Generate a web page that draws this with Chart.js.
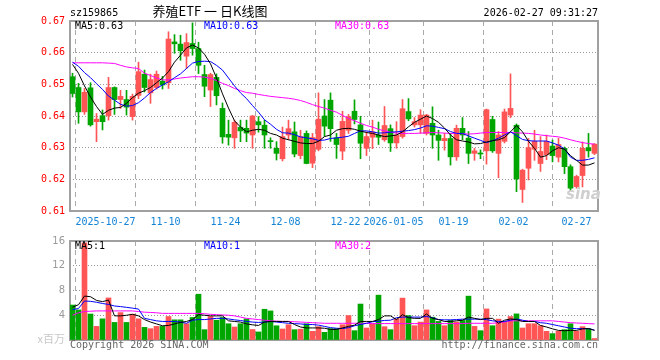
<!DOCTYPE html>
<html>
<head>
<meta charset="utf-8">
<script src="https://cdn.jsdelivr.net/npm/chart.js@4.4.1/dist/chart.umd.min.js"></script>
<style>
  body { margin:0; background:#fff; width:660px; height:360px; position:relative; overflow:hidden;
         font-family:'DejaVu Sans Mono', monospace; font-size:10px; line-height:10px; }
  .t { position:absolute; white-space:pre; }
  canvas { position:absolute; left:0; }
</style>
</head>
<body>
<canvas id="chart-k" width="660" height="230" style="top:0"></canvas>
<canvas id="chart-vol" width="660" height="130" style="top:230px"></canvas>

<div class="t" style="left:70px;top:8px;color:#000">sz159865</div>
<div class="t" style="left:130px;width:160px;top:4px;text-align:center;font-family:'Noto Sans CJK SC';font-size:13px;line-height:13px;color:#000">养殖ETF 一 日K线图</div>
<div class="t" style="right:62px;top:8px;color:#000">2026-02-27 09:31:27</div>

<div class="t" style="left:75px;top:21px;color:#000">MA5:0.63</div>
<div class="t" style="left:204px;top:21px;color:#0000ff">MA10:0.63</div>
<div class="t" style="left:335px;top:21px;color:#ff00ff">MA30:0.63</div>

<div class="t" style="left:75px;top:241px;color:#000">MA5:1</div>
<div class="t" style="left:204px;top:241px;color:#0000ff">MA10:1</div>
<div class="t" style="left:335px;top:241px;color:#ff00ff">MA30:2</div>

<div class="t" style="right:595px;top:333px;color:#c8c8c8;font-family:'Noto Sans CJK SC';font-size:11px;line-height:11px">x百万</div>
<div class="t" style="left:70px;top:340px;color:#666">Copyright 2026 SINA.COM</div>
<div class="t" style="right:62px;top:340px;color:#666">http://finance.sina.com.cn</div>
<div class="t" style="left:566px;top:187px;color:#cfcfcf;font-family:'DejaVu Sans';font-weight:bold;font-style:italic;font-size:15px;line-height:15px">sina</div>

<script>
// ── Data ─────────────────────────────────────────────────────────
const opens = [
  0.6524,0.6490,0.6413,0.6489,0.6382,0.6401,0.6401,0.6490,0.6452,0.6452,
  0.6398,0.6465,0.6532,0.6473,0.6490,0.6510,0.6505,0.6634,0.6627,0.6589,
  0.6629,0.6613,0.6531,0.6482,0.6522,0.6424,0.6342,0.6331,0.6364,0.6361,
  0.6340,0.6382,0.6371,0.6321,0.6298,0.6265,0.6340,0.6350,0.6275,0.6345,
  0.6251,0.6295,0.6400,0.6450,0.6331,0.6289,0.6355,0.6415,0.6372,0.6298,
  0.6333,0.6340,0.6325,0.6360,0.6315,0.6335,0.6414,0.6372,0.6372,0.6345,
  0.6377,0.6340,0.6322,0.6329,0.6271,0.6361,0.6330,0.6282,0.6283,0.6290,
  0.6389,0.6282,0.6320,0.6403,0.6371,0.6168,0.6235,0.6295,0.6250,0.6278,
  0.6305,0.6270,0.6298,0.6240,0.6177,0.6212,0.6300,0.6282];
const highs = [
  0.6535,0.6503,0.6487,0.6505,0.6408,0.6419,0.6522,0.6492,0.6481,0.6481,
  0.6469,0.6570,0.6545,0.6532,0.6542,0.6525,0.6666,0.6657,0.6655,0.6660,
  0.6694,0.6633,0.6560,0.6535,0.6533,0.6441,0.6387,0.6387,0.6387,0.6387,
  0.6402,0.6398,0.6387,0.6331,0.6319,0.6365,0.6387,0.6381,0.6355,0.6353,
  0.6345,0.6473,0.6452,0.6473,0.6345,0.6415,0.6405,0.6451,0.6399,0.6350,
  0.6387,0.6381,0.6430,0.6372,0.6382,0.6452,0.6455,0.6395,0.6420,0.6405,
  0.6429,0.6355,0.6345,0.6345,0.6371,0.6395,0.6351,0.6298,0.6293,0.6422,
  0.6399,0.6351,0.6422,0.6533,0.6375,0.6232,0.6329,0.6355,0.6335,0.6340,
  0.6324,0.6330,0.6302,0.6246,0.6213,0.6318,0.6345,0.6313];
const lows = [
  0.6460,0.6377,0.6405,0.6368,0.6319,0.6356,0.6387,0.6405,0.6424,0.6403,
  0.6387,0.6455,0.6476,0.6440,0.6485,0.6485,0.6487,0.6598,0.6576,0.6550,
  0.6592,0.6534,0.6461,0.6430,0.6435,0.6314,0.6308,0.6298,0.6319,0.6319,
  0.6298,0.6349,0.6298,0.6298,0.6261,0.6258,0.6325,0.6271,0.6265,0.6249,
  0.6237,0.6290,0.6336,0.6320,0.6266,0.6262,0.6345,0.6375,0.6265,0.6275,
  0.6297,0.6310,0.6320,0.6288,0.6298,0.6330,0.6385,0.6365,0.6345,0.6340,
  0.6298,0.6260,0.6292,0.6245,0.6260,0.6325,0.6250,0.6260,0.6265,0.6248,
  0.6285,0.6205,0.6315,0.6395,0.6161,0.6127,0.6198,0.6260,0.6225,0.6262,
  0.6255,0.6255,0.6218,0.6161,0.6172,0.6176,0.6270,0.6278];
const closes = [
  0.6471,0.6413,0.6475,0.6372,0.6390,0.6382,0.6490,0.6452,0.6462,0.6428,
  0.6462,0.6540,0.6490,0.6515,0.6532,0.6498,0.6643,0.6628,0.6606,0.6632,
  0.6613,0.6560,0.6494,0.6531,0.6464,0.6334,0.6333,0.6380,0.6353,0.6346,
  0.6400,0.6372,0.6340,0.6319,0.6282,0.6335,0.6360,0.6280,0.6335,0.6250,
  0.6332,0.6390,0.6368,0.6360,0.6310,0.6383,0.6398,0.6389,0.6314,0.6335,
  0.6350,0.6333,0.6370,0.6315,0.6340,0.6423,0.6391,0.6382,0.6403,0.6403,
  0.6340,0.6323,0.6329,0.6271,0.6361,0.6340,0.6282,0.6290,0.6280,0.6420,
  0.6290,0.6340,0.6413,0.6424,0.6201,0.6229,0.6300,0.6320,0.6288,0.6320,
  0.6275,0.6310,0.6240,0.6172,0.6209,0.6298,0.6290,0.6311];

const ma5 = [
  0.6563,0.6535,0.6495,0.6460,0.6430,0.6405,0.6418,0.6425,0.6427,0.6440,
  0.6458,0.6472,0.6480,0.6490,0.6505,0.6520,0.6540,0.6570,0.6592,0.6615,
  0.6624,0.6615,0.6595,0.6565,0.6520,0.6470,0.6425,0.6385,0.6365,0.6350,
  0.6355,0.6358,0.6355,0.6345,0.6340,0.6330,0.6325,0.6320,0.6315,0.6313,
  0.6313,0.6320,0.6335,0.6340,0.6355,0.6360,0.6361,0.6358,0.6352,0.6348,
  0.6345,0.6340,0.6335,0.6337,0.6340,0.6350,0.6366,0.6380,0.6390,0.6400,
  0.6392,0.6380,0.6362,0.6340,0.6325,0.6321,0.6318,0.6312,0.6313,0.6318,
  0.6322,0.6325,0.6332,0.6350,0.6370,0.6350,0.6320,0.6298,0.6270,0.6275,
  0.6290,0.6300,0.6295,0.6275,0.6260,0.6245,0.6245,0.6252];
const ma10 = [
  0.6570,0.6557,0.6537,0.6521,0.6502,0.6484,0.6463,0.6450,0.6437,0.6431,
  0.6433,0.6442,0.6457,0.6474,0.6487,0.6498,0.6508,0.6521,0.6533,0.6550,
  0.6567,0.6572,0.6573,0.6572,0.6560,0.6545,0.6520,0.6495,0.6473,0.6455,
  0.6433,0.6412,0.6388,0.6374,0.6358,0.6347,0.6346,0.6341,0.6334,0.6331,
  0.6328,0.6323,0.6324,0.6329,0.6331,0.6333,0.6336,0.6345,0.6353,0.6353,
  0.6350,0.6346,0.6347,0.6349,0.6350,0.6352,0.6354,0.6357,0.6362,0.6369,
  0.6368,0.6364,0.6360,0.6351,0.6345,0.6345,0.6337,0.6330,0.6323,0.6316,
  0.6322,0.6330,0.6340,0.6350,0.6338,0.6326,0.6322,0.6321,0.6321,0.6321,
  0.6315,0.6308,0.6296,0.6270,0.6260,0.6260,0.6263,0.6268];
const ma30 = [
  0.6568,0.6568,0.6568,0.6568,0.6568,0.6568,0.6567,0.6566,0.6560,0.6555,
  0.6552,0.6550,0.6535,0.6528,0.6520,0.6514,0.6514,0.6517,0.6520,0.6522,
  0.6524,0.6524,0.6523,0.6519,0.6512,0.6503,0.6496,0.6487,0.6480,0.6474,
  0.6472,0.6468,0.6465,0.6462,0.6460,0.6458,0.6456,0.6453,0.6449,0.6443,
  0.6436,0.6430,0.6425,0.6418,0.6412,0.6402,0.6392,0.6385,0.6377,0.6370,
  0.6365,0.6358,0.6353,0.6349,0.6346,0.6345,0.6345,0.6345,0.6346,0.6347,
  0.6348,0.6347,0.6346,0.6345,0.6345,0.6344,0.6343,0.6344,0.6346,0.6348,
  0.6348,0.6348,0.6348,0.6348,0.6347,0.6346,0.6345,0.6343,0.6340,0.6338,
  0.6336,0.6334,0.6330,0.6325,0.6320,0.6316,0.6313,0.6311];

// volume, millions
const vols = [
  5.65,4.86,15.7,4.20,2.20,3.42,6.80,2.84,4.43,2.84,
  4.17,3.42,2.04,1.83,2.20,2.20,3.80,3.26,3.26,2.63,
  3.64,7.40,1.67,3.80,3.20,3.64,2.63,2.10,2.63,3.42,
  1.70,1.30,4.97,4.70,2.30,1.78,2.47,1.67,1.75,2.63,
  1.40,2.15,1.24,1.85,1.85,2.47,3.95,1.51,5.81,1.94,
  2.63,7.25,2.15,1.67,3.42,6.77,3.95,2.31,2.90,4.86,
  3.69,3.00,2.31,3.16,2.90,3.16,7.09,2.20,1.51,5.02,
  2.31,3.37,2.90,3.79,4.22,1.94,2.63,2.63,2.31,1.40,
  1.03,1.40,1.67,2.63,1.40,2.15,1.83,0.24];
const vma5 = [
  5.3,5.7,7.1,7.0,6.4,6.2,6.45,3.9,3.9,4.0,
  4.15,3.9,3.3,2.9,2.6,2.3,2.35,2.6,2.85,3.0,
  3.3,4.1,4.0,3.9,3.9,3.9,3.1,3.0,2.9,2.6,
  2.45,2.35,2.9,3.0,3.0,3.0,3.0,2.5,2.1,1.95,
  1.95,1.95,1.9,1.7,1.7,1.95,2.2,2.4,3.0,3.0,
  3.0,3.3,3.9,3.9,3.3,4.1,3.6,3.5,3.5,4.2,
  3.5,3.3,3.0,3.0,3.1,3.2,3.7,3.5,3.3,3.5,
  3.5,2.7,3.2,3.4,3.3,3.0,3.0,3.0,2.35,2.1,
  1.8,1.55,1.5,1.55,1.55,1.8,1.85,1.55];
const vma10 = [
  4.9,5.1,6.3,6.25,6.1,5.9,5.75,5.5,5.4,5.28,
  5.15,5.0,3.5,3.3,3.1,3.0,3.0,3.0,2.9,2.7,
  3.2,3.3,3.3,3.4,3.5,3.5,3.4,3.26,3.15,3.0,
  2.9,2.84,2.9,3.0,2.9,2.8,2.7,2.65,2.6,2.5,
  2.5,2.4,2.2,2.0,1.9,1.85,2.0,2.3,2.5,2.7,
  2.95,3.05,3.16,3.2,3.6,3.7,3.7,3.7,3.7,3.8,
  3.6,3.3,3.26,3.26,3.3,3.37,3.37,3.37,3.37,3.3,
  3.1,3.0,3.0,3.2,3.4,3.2,3.0,3.0,2.8,2.7,
  2.5,2.3,2.1,1.9,1.83,1.83,1.83,1.6];
const vma30 = [
  4.0,4.4,4.6,4.65,4.7,4.7,4.7,4.7,4.7,4.7,
  4.7,4.6,4.5,4.45,4.4,4.3,4.3,4.3,4.3,4.3,
  4.3,4.3,4.25,4.15,4.1,4.05,4.0,3.9,3.7,3.5,
  3.4,3.3,3.2,3.1,3.05,3.0,3.0,2.95,2.9,2.85,
  2.8,2.75,2.7,2.7,2.7,2.7,2.7,2.7,2.7,2.7,
  2.65,2.65,2.65,2.65,2.65,2.65,2.65,2.65,2.65,2.65,
  2.65,2.65,2.65,2.65,2.65,2.65,2.7,2.7,2.7,2.7,
  2.7,2.8,2.9,3.1,3.1,3.1,3.1,3.1,3.1,3.1,
  3.1,3.0,2.9,2.8,2.75,2.7,2.65,2.6];

// date ticks: bar index each label belongs to
const dateTickIdx  = [6, 16, 26, 36, 46, 54, 64, 74, 87];
const dateTickText = ['2025-10-27', '11-10', '11-24', '12-08', '12-22', '2026-01-05', '01-19', '02-02', '02-27'];
const priceTicks = [0.61, 0.62, 0.63, 0.64, 0.65, 0.66, 0.67];
const volTicks   = [0, 4, 8, 12, 16];

// ── Styling ──────────────────────────────────────────────────────
const RED = '#ff5555';
const GREEN = '#00a600';
const MONO = 'DejaVu Sans Mono';
const N = closes.length;

const upDown = closes.map((c, i) => (c >= opens[i] ? RED : GREEN));

const frame = {
  id: 'frame',
  beforeDatasetsDraw(chart) {
    const { ctx, chartArea: a } = chart;
    ctx.save();
    ctx.strokeStyle = '#a0a0a0';
    ctx.lineWidth = 2;
    ctx.strokeRect(a.left, a.top, a.right - a.left, a.bottom - a.top);
    ctx.restore();
  },
};

function xScale(showLabels, height) {
  return {
    type: 'linear',
    min: -5 / 12,
    max: N - 5 / 12,
    offset: false,
    afterBuildTicks: (s) => { s.ticks = dateTickIdx.map(k => ({ value: k - 0.5 })); },
    afterFit: (s) => { s.height = height; },
    grid: { color: '#aaa', lineWidth: 1, drawTicks: false },
    border: { display: false, dash: [5, 4] },
    ticks: {
      display: showLabels,
      autoSkip: false,
      maxRotation: 0,
      padding: 5,
      color: '#1384d6',
      font: { family: MONO, size: 10 },
      // last label sits left of its line, like the original
      callback: (v, i) => (i === dateTickText.length - 1 ? dateTickText[i] + '     ' : dateTickText[i]),
    },
  };
}

function yScale(ticks, labelFn, color, family) {
  const last = ticks.length - 1;
  return {
    min: ticks[0],
    max: ticks[last],
    afterBuildTicks: (s) => { s.ticks = ticks.map(v => ({ value: v })); },
    afterFit: (s) => { s.width = 70; },
    grid: {
      color: (c) => (c.index === 0 || c.index === last ? 'rgba(0,0,0,0)' : '#999'),
      lineWidth: 1,
      drawTicks: false,
    },
    border: { display: false, dash: [1, 2] },
    ticks: { color, padding: 5, font: { family, size: 10 }, callback: labelFn },
  };
}

function maLine(values, color) {
  return {
    type: 'line',
    data: values.map((v, i) => ({ x: i, y: v })),
    borderColor: color,
    borderWidth: 1,
    pointRadius: 0,
    tension: 0,
    order: 0,
  };
}

Chart.defaults.animation = false;

// ── Candles + price MAs ──────────────────────────────────────────
new Chart(document.getElementById('chart-k'), {
  type: 'bar',
  data: {
    datasets: [
      maLine(ma5, '#000000'),
      maLine(ma10, '#0000ff'),
      maLine(ma30, '#ff00ff'),
      {
        data: opens.map((o, i) => ({ x: i, y: [o, closes[i]] })),
        backgroundColor: upDown,
        barThickness: 5,
        minBarLength: 1,
        grouped: false,
        order: 1,
      },
      {
        data: lows.map((l, i) => ({ x: i, y: [l, highs[i]] })),
        backgroundColor: upDown,
        barThickness: 1,
        grouped: false,
        order: 2,
      },
    ],
  },
  options: {
    responsive: false,
    devicePixelRatio: 1,
    layout: { padding: { left: 0, right: 62, top: 21, bottom: 0 } },
    plugins: { legend: { display: false }, tooltip: { enabled: false } },
    scales: {
      x: xScale(true, 19),
      y: yScale(priceTicks, v => v.toFixed(2), '#ff0000', MONO),
    },
  },
  plugins: [frame],
});

// ── Volume + volume MAs ──────────────────────────────────────────
new Chart(document.getElementById('chart-vol'), {
  type: 'bar',
  data: {
    datasets: [
      maLine(vma5, '#000000'),
      maLine(vma10, '#0000ff'),
      maLine(vma30, '#ff00ff'),
      {
        data: vols.map((v, i) => ({ x: i, y: v })),
        backgroundColor: upDown,
        barThickness: 5,
        grouped: false,
        order: 1,
      },
    ],
  },
  options: {
    responsive: false,
    devicePixelRatio: 1,
    layout: { padding: { left: 0, right: 62, top: 10, bottom: 0 } },
    plugins: { legend: { display: false }, tooltip: { enabled: false } },
    scales: {
      x: xScale(false, 20),
      y: yScale(volTicks, v => (v === 0 ? '' : String(v)), '#999', 'DejaVu Sans'),
    },
  },
  plugins: [frame],
});
</script>
</body>
</html>
